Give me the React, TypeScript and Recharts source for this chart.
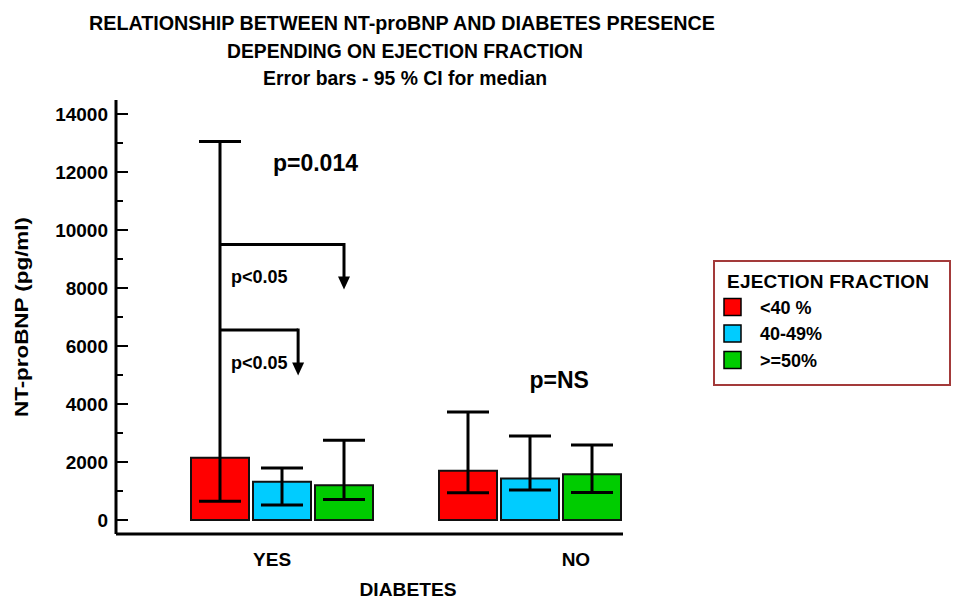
import React from "react";
import {
  ComposedChart,
  Bar,
  Cell,
  ErrorBar,
  XAxis,
  YAxis,
  ReferenceLine,
  ReferenceDot,
  Legend,
} from "recharts";

const FONT = '"Liberation Sans", Arial, Helvetica, sans-serif';
const NARROW = '"Liberation Sans Narrow", "Arial Narrow", "Liberation Sans", Arial, sans-serif';

const DIABETES = ["YES", "NO"];
const EF_LABELS = ["<40 %", "40-49%", ">=50%"];
const EF_COLORS = ["#ff0000", "#00ccff", "#00cc00"];

// medians and 95% CI for median, pg/ml
const MEDIAN_YES = [2150, 1320, 1200];
const LOW_YES = [650, 520, 710];
const HIGH_YES = [13050, 1790, 2750];
const MEDIAN_NO = [1700, 1435, 1580];
const LOW_NO = [940, 1030, 950];
const HIGH_NO = [3720, 2900, 2590];

const Y_TICKS = [
  0, 1000, 2000, 3000, 4000, 5000, 6000, 7000, 8000, 9000, 10000, 11000, 12000,
  13000, 14000,
];

// annotation axis runs in bar slots: 7 slots (3 bars, a gap, 3 bars),
// the plot starts 73px (1.177 slots) left of slot 0
const SLOT_DOMAIN = [-73 / 62, 7];
const GROUP_LABEL_AT = [1.34, 6.24];

const BRACKETS = [
  { fromX: 0.5, toX: 2.5, level: 9500, tip: 7950 },
  { fromX: 0.5, toX: 1.76, level: 6550, tip: 4980 },
];

const NOTES = [
  { x: 2.04, y: 12030, text: "p=0.014", size: 23, anchor: "middle" },
  { x: 0.677, y: 8170, text: "p<0.05", size: 18, anchor: "start" },
  { x: 0.677, y: 5210, text: "p<0.05", size: 18, anchor: "start" },
  { x: 5.97, y: 4550, text: "p=NS", size: 23, anchor: "middle" },
];

type Row = {
  key: string;
  slot: number;
  median: number | null;
  ci: number[] | null;
  color: string;
};

const rows: Row[] = [];
[
  [MEDIAN_YES, LOW_YES, HIGH_YES],
  [MEDIAN_NO, LOW_NO, HIGH_NO],
].forEach(([med, lo, hi], g) => {
  if (g > 0) rows.push({ key: "gap", slot: rows.length + 0.5, median: null, ci: null, color: "none" });
  med.forEach((m, i) =>
    rows.push({
      key: `${DIABETES[g]} ${EF_LABELS[i]}`,
      slot: rows.length + 0.5,
      median: m,
      ci: [m - lo[i], hi[i] - m],
      color: EF_COLORS[i],
    })
  );
});

const YTick = (p: any) => {
  const v = p.payload.value;
  const major = v % 2000 === 0;
  return (
    <g>
      <line x1={p.x} x2={p.x + (major ? 12 : 7)} y1={p.y} y2={p.y} stroke="#000" strokeWidth={2} />
      {major && (
        <text
          x={p.x - 8}
          y={p.y}
          dy="0.36em"
          textAnchor="end"
          fontFamily={FONT}
          fontWeight="bold"
          fontSize={19}
          fill="#000"
        >
          {v}
        </text>
      )}
    </g>
  );
};

const XTick = (p: any) => (
  <text
    x={p.x}
    y={p.y + 32}
    textAnchor="middle"
    fontFamily={FONT}
    fontWeight="bold"
    fontSize={19}
    fill="#000"
  >
    {DIABETES[p.index]}
  </text>
);

const ArrowLine = (p: any) => {
  const { x1, y1, x2, y2 } = p;
  const top = Math.min(y1, y2);
  const bottom = Math.max(y1, y2);
  const head = 13;
  return (
    <g>
      <line x1={x1} y1={top - 1.5} x2={x2} y2={bottom - head + 1} stroke="#000" strokeWidth={3} />
      <polygon
        points={`${x2 - 6},${bottom - head} ${x2 + 6},${bottom - head} ${x2},${bottom}`}
        fill="#000"
      />
    </g>
  );
};

const LegendBox = () => (
  <svg width={238} height={126} style={{ display: "block" }}>
    <rect x={1} y={1} width={236} height={124} fill="#fff" stroke="#a33a3a" strokeWidth={2} />
    <text x={14} y={28} fontFamily={FONT} fontWeight="bold" fontSize={19} textLength={202} fill="#000">
      EJECTION FRACTION
    </text>
    {EF_LABELS.map((lab, i) => {
      const cy = 47 + i * 26.5;
      return (
        <g key={lab}>
          <rect x={11} y={cy - 8.5} width={17} height={17} fill={EF_COLORS[i]} stroke="#000" strokeWidth={1.5} />
          <text x={47} y={cy + 6.5} fontFamily={FONT} fontWeight="bold" fontSize={18} fill="#000">
            {lab}
          </text>
        </g>
      );
    })}
  </svg>
);

export default function App() {
  return (
    <div style={{ position: "absolute", left: 0, top: 0, width: 953, height: 599, background: "#fff" }}>
      <ComposedChart
        width={953}
        height={599}
        data={rows}
        margin={{ top: 100, right: 330, bottom: 35, left: 56 }}
      >
        <XAxis
          xAxisId="cat"
          dataKey="key"
          type="category"
          hide
          height={0}
          padding={{ left: 73, right: 0 }}
        />
        <XAxis
          xAxisId="num"
          dataKey="slot"
          type="number"
          domain={SLOT_DOMAIN}
          allowDataOverflow
          ticks={GROUP_LABEL_AT}
          interval={0}
          tick={<XTick />}
          tickSize={0}
          tickMargin={0}
          tickLine={false}
          axisLine={{ stroke: "#000", strokeWidth: 3 }}
          height={30}
        />
        <YAxis
          type="number"
          domain={[-483, 14483]}
          allowDataOverflow
          ticks={Y_TICKS}
          interval={0}
          tick={<YTick />}
          tickSize={0}
          tickMargin={0}
          tickLine={false}
          axisLine={{ stroke: "#000", strokeWidth: 3 }}
          width={60}
        />
        <Bar xAxisId="cat" dataKey="median" barSize={58} stroke="#111" strokeWidth={2} isAnimationActive={false}>
          {rows.map((r, i) => (
            <Cell key={i} fill={r.color} />
          ))}
          <ErrorBar dataKey="ci" width={21} stroke="#000" strokeWidth={3} isAnimationActive={false} />
        </Bar>
        {BRACKETS.map((b, i) => (
          <ReferenceLine
            key={`h${i}`}
            xAxisId="num"
            segment={[
              { x: b.fromX, y: b.level },
              { x: b.toX, y: b.level },
            ]}
            stroke="#000"
            strokeWidth={3}
          />
        ))}
        {BRACKETS.map((b, i) => (
          <ReferenceLine
            key={`v${i}`}
            xAxisId="num"
            segment={[
              { x: b.toX, y: b.level },
              { x: b.toX, y: b.tip },
            ]}
            shape={ArrowLine}
          />
        ))}
        {NOTES.map((n, i) => (
          <ReferenceDot
            key={`n${i}`}
            xAxisId="num"
            x={n.x}
            y={n.y}
            shape={(p: any) => (
              <text
                x={p.cx}
                y={p.cy}
                textAnchor={n.anchor as any}
                fontFamily={FONT}
                fontWeight="bold"
                fontSize={n.size}
                fill="#000"
              >
                {n.text}
              </text>
            )}
          />
        ))}
        <Legend
          layout="horizontal"
          verticalAlign="middle"
          align="center"
          wrapperStyle={{ left: 713, top: 260, width: 238, height: 126 }}
          content={() => <LegendBox />}
        />
      </ComposedChart>
      <svg
        width={953}
        height={599}
        style={{ position: "absolute", left: 0, top: 0, pointerEvents: "none" }}
      >
        <g fontFamily={NARROW} fontWeight="bold" fontSize={21} fill="#000" textAnchor="middle">
          <text x={402} y={30} textLength={626} lengthAdjust="spacingAndGlyphs">
            RELATIONSHIP BETWEEN NT-proBNP AND DIABETES PRESENCE
          </text>
          <text x={405} y={58} textLength={356} lengthAdjust="spacingAndGlyphs">
            DEPENDING ON EJECTION FRACTION
          </text>
          <text x={405} y={85} textLength={284} lengthAdjust="spacingAndGlyphs">
            Error bars - 95 % CI for median
          </text>
        </g>
        <g fontFamily={FONT} fontWeight="bold" fill="#000" textAnchor="middle">
          <text
            x={28}
            y={317}
            fontSize={19}
            textLength={200}
            lengthAdjust="spacingAndGlyphs"
            transform="rotate(-90 28 317)"
          >
            NT-proBNP (pg/ml)
          </text>
          <text x={408} y={596} fontSize={19} textLength={97} lengthAdjust="spacingAndGlyphs">
            DIABETES
          </text>
        </g>
      </svg>
    </div>
  );
}
